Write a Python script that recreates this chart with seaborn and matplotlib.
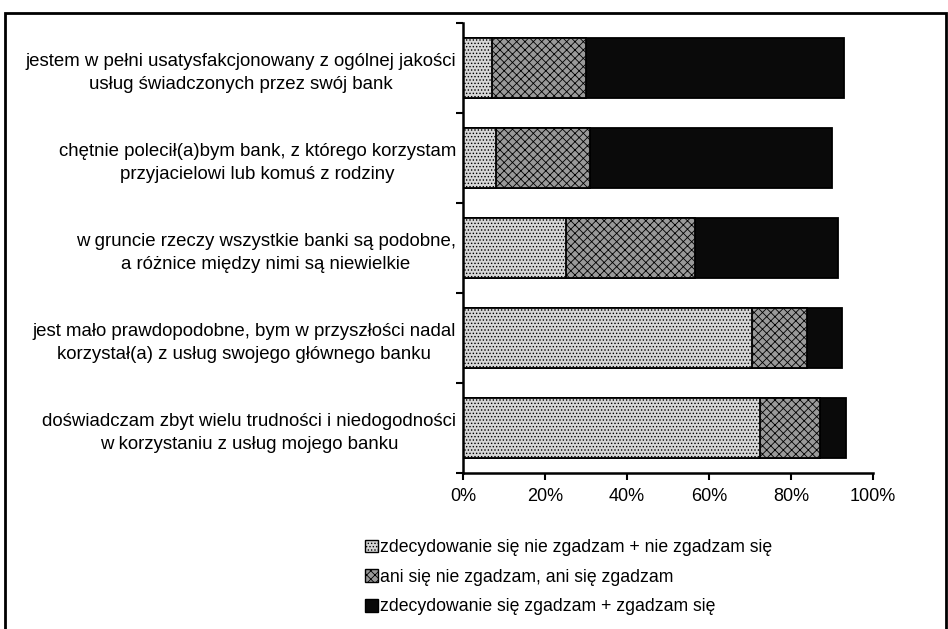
import numpy as np
import pandas as pd
import seaborn as sns
from matplotlib import pyplot as plt
from matplotlib.patches import Patch, Rectangle

# statements (categories, top to bottom)
statements = [
    'jestem w pełni usatysfakcjonowany z ogólnej jakości\nusług świadczonych przez swój bank',
    'chętnie polecił(a)bym bank, z którego korzystam\nprzyjacielowi lub komuś z rodziny',
    'w gruncie rzeczy wszystkie banki są podobne,\na różnice między nimi są niewielkie',
    'jest mało prawdopodobne, bym w przyszłości nadal\nkorzystał(a) z usług swojego głównego banku',
    'doświadczam zbyt wielu trudności i niedogodności\nw korzystaniu z usług mojego banku',
]

# shares in percent
disagree = [7, 8, 25, 70.5, 72.5]
neutral = [23, 23, 31.5, 13.5, 14.5]
agree = [63, 59, 35, 8.5, 6.5]

series_names = [
    'zdecydowanie się nie zgadzam + nie zgadzam się',
    'ani się nie zgadzam, ani się zgadzam',
    'zdecydowanie się zgadzam + zgadzam się',
]

df = pd.DataFrame({'statement': statements, 'disagree': disagree,
                   'neutral': neutral, 'agree': agree})
df['c1'] = df['disagree']
df['c2'] = df['c1'] + df['neutral']
df['c3'] = df['c2'] + df['agree']

sns.set_style('white')
plt.rcParams['font.family'] = ['Liberation Sans', 'DejaVu Sans']
plt.rcParams['hatch.linewidth'] = 0.6
plt.rcParams['text.color'] = 'black'
plt.rcParams['xtick.color'] = 'black'
plt.rcParams['ytick.color'] = 'black'

fig = plt.figure(figsize=(9.48, 6.29), dpi=100)
ax = fig.add_axes([463 / 948, 1 - 473 / 629, 410 / 948, 450 / 629])

# styles for each layer: facecolor, hatch
styles = [('#d6d6d6', '.....'), ('#9a9a9a', 'xxxx'), ('#0a0a0a', None)]

# draw cumulative layers, the longest first
for col, (fc, h) in zip(['c3', 'c2', 'c1'], styles[::-1]):
    sns.barplot(data=df, x=col, y='statement', orient='h', ax=ax,
                color=fc, saturation=1, width=0.66, edgecolor='black',
                linewidth=1.3, hatch=h)

ax.set_xlim(0, 100)
ax.set_ylim(4.5, -0.5)
ax.set_xticks(np.arange(0, 101, 20))
ax.set_xticklabels([f'{v}%' for v in range(0, 101, 20)])
ax.set_xlabel('')
ax.set_ylabel('')

ax.set_yticks(np.arange(-0.5, 5, 1), minor=True)
ax.tick_params(axis='y', which='major', length=0, pad=5, labelsize=13.4, labelcolor='black')
ax.tick_params(axis='y', which='minor', length=5, width=1.5, direction='out', color='black', left=True)
ax.tick_params(axis='x', length=5, width=1.5, direction='out', color='black', bottom=True,
               labelsize=13, pad=6, labelcolor='black')
for lbl in ax.get_yticklabels():
    lbl.set_multialignment('center')
    lbl.set_linespacing(1.45)

sns.despine(ax=ax)
for side in ['left', 'bottom']:
    ax.spines[side].set_linewidth(1.8)
    ax.spines[side].set_color('black')

handles = [Patch(facecolor=fc, edgecolor='black', hatch=h, linewidth=1) for fc, h in styles]
fig.legend(handles, series_names, loc='upper left',
           bbox_to_anchor=(365 / 948, 1 - 539 / 629), frameon=False,
           fontsize=12.7, handlelength=0.72, handleheight=0.72,
           handletextpad=0.15, labelspacing=0.72, borderpad=0, borderaxespad=0)

# outer frame around the whole chart
fig.add_artist(Rectangle((5 / 948, -0.02), 941 / 948, 1.02 - 13 / 629,
                         transform=fig.transFigure, fill=False,
                         edgecolor='black', linewidth=2, clip_on=False))

fig.savefig('out.png', dpi=100)
